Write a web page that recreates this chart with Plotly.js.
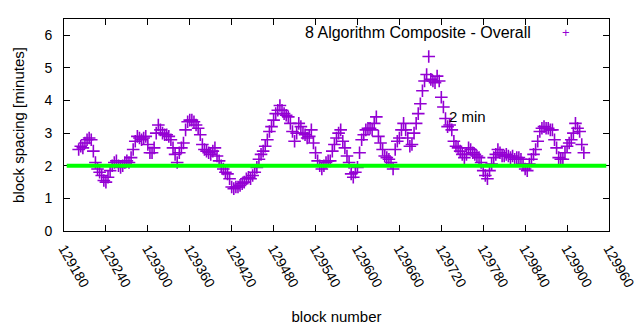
<!DOCTYPE html>
<html>
<head>
<meta charset="utf-8">
<script src="https://cdn.plot.ly/plotly-3.0.1.min.js"></script>
<style>html,body{margin:0;padding:0;background:#fff;}#chart{width:640px;height:330px;}</style>
</head>
<body>
<div id="chart"></div>
<script>
// first block shown and spacing between sampled blocks
const firstBlock = 129201;
const blockStep = 3;
// block spacing in minutes
const spacing = [
  2.5, 2.6, 2.55, 2.7, 2.8,
  2.85, 2.8, 2.45, 2.1, 1.9,
  1.8, 1.7, 1.55, 1.5, 1.65,
  1.85, 2.0, 2.1, 2.15, 2.0,
  1.95, 2.0, 2.1, 2.15, 2.1,
  2.25, 2.5, 2.75, 2.9, 2.85,
  2.8, 2.85, 2.9, 2.65, 2.4,
  2.4, 2.55, 3.0, 3.25, 3.1,
  3.0, 2.95, 2.95, 2.9, 2.8,
  2.55, 2.35, 2.1, 2.4, 2.55,
  2.7, 3.1, 3.35, 3.4, 3.4,
  3.35, 3.25, 3.15, 2.95, 2.65,
  2.5, 2.45, 2.4, 2.35, 2.45,
  2.55, 2.3, 2.15, 2.0, 1.9,
  1.8, 1.75, 1.6, 1.35, 1.3,
  1.35, 1.35, 1.4, 1.45, 1.5,
  1.6, 1.65, 1.6, 1.7, 1.8,
  1.95, 2.2, 2.35, 2.45, 2.6,
  2.8, 3.05, 3.2, 3.4, 3.6,
  3.7, 3.85, 3.7, 3.6, 3.55,
  3.5, 3.3, 3.05, 2.75, 3.0,
  3.3, 3.2, 3.0, 2.95, 2.85,
  2.9, 3.1, 2.7, 2.4, 2.15,
  2.0, 1.9, 2.0, 2.1, 2.15,
  2.15, 2.45, 2.65, 2.85, 3.0,
  3.1, 2.75, 2.55, 2.3, 2.1,
  1.75, 1.65, 1.8, 1.95, 2.4,
  2.8, 2.95, 3.1, 3.15, 3.15,
  3.1, 3.3, 3.5, 2.9, 2.7,
  2.5, 2.3, 2.25, 2.2, 2.1,
  1.9, 2.5, 2.75, 2.85, 3.1,
  3.3, 3.1, 2.85, 2.6, 2.65,
  3.0, 3.3, 3.6, 3.9, 4.3,
  4.6, 4.8, 5.35, 4.65, 4.6,
  4.55, 4.75, 4.6, 4.1, 3.8,
  3.45, 3.2, 3.25, 3.1, 2.75,
  2.6, 2.55, 2.45, 2.35, 2.25,
  2.35, 2.55, 2.5, 2.4, 2.35,
  2.3, 2.25, 2.1, 1.85, 1.7,
  1.6, 1.85, 2.05, 2.25, 2.35,
  2.5, 2.4, 2.3, 2.3, 2.35,
  2.3, 2.25, 2.3, 2.2, 2.25,
  2.25, 2.2, 2.05, 1.9, 1.85,
  2.05, 2.2, 2.35, 2.5, 2.75,
  3.05, 3.15, 3.2, 3.15, 3.15,
  3.1, 3.1, 2.8, 2.55, 2.25,
  2.2, 2.2, 2.4, 2.6, 2.7,
  2.8, 3.0, 3.3, 3.15, 3.05,
  2.65, 2.4
];
const xTicks = [129180,129240,129300,129360,129420,129480,129540,129600,129660,129720,129780,129840,129900,129960];
const xRange = [129180, 129960];
const yRange = [0, 6.5];
const targetMinutes = 2;
const seriesName = "8 Algorithm Composite - Overall";
const targetLabel = "2 min";
const targetLabelPos = [129728, 3.5];

const blocks = spacing.map((v, i) => firstBlock + i * blockStep);

const font = {family: "Liberation Sans, Arial, sans-serif", size: 14, color: "#000"};

const traces = [{
  type: "scatter", mode: "markers", x: blocks, y: spacing, name: seriesName,
  showlegend: false,
  marker: {symbol: "cross-thin-open", size: 9, color: "#9400d3", line: {color: "#9400d3", width: 1.6}},
  cliponaxis: false
}];

const layout = {
  width: 640, height: 330,
  margin: {l: 64, r: 31, t: 19, b: 99},
  paper_bgcolor: "#fff", plot_bgcolor: "#fff",
  font: font,
  showlegend: false,
  xaxis: {
    range: xRange, tickvals: xTicks, ticktext: xTicks.map(String), tickangle: 60,
    ticks: "inside", ticklen: 6, tickcolor: "#000", mirror: "allticks",
    showline: true, linecolor: "#000", linewidth: 1, showgrid: false, zeroline: false,
    tickfont: {family: font.family, size: 14, color: "#000"},
    ticklabelstandoff: 3,
    title: {text: "block number", font: {family: font.family, size: 15, color: "#000"}, standoff: 22},
    automargin: false
  },
  yaxis: {
    range: yRange, dtick: 1, tick0: 0,
    ticks: "inside", ticklen: 6, tickcolor: "#000", mirror: "allticks",
    showline: true, linecolor: "#000", linewidth: 1, showgrid: false, zeroline: false,
    tickfont: {family: font.family, size: 14, color: "#000"},
    ticklabelstandoff: 8,
    title: {text: "block spacing [minutes]", font: {family: font.family, size: 15, color: "#000"}, standoff: 16},
    automargin: false
  },
  shapes: [{
    type: "line", xref: "paper", yref: "y", x0: 0.005, x1: 0.995, y0: targetMinutes, y1: targetMinutes,
    line: {color: "#00ff00", width: 4}, layer: "above"
  }],
  annotations: [
    {xref: "paper", yref: "paper", x: 0.8606, y: 0.935, xanchor: "right", yanchor: "middle",
     text: seriesName, showarrow: false, font: {family: font.family, size: 16, color: "#000"}},
    {xref: "paper", yref: "paper", x: 0.921, y: 0.935, xanchor: "center", yanchor: "middle",
     text: "+", showarrow: false, font: {family: font.family, size: 13, color: "#9400d3"}},
    {xref: "x", yref: "y", x: targetLabelPos[0], y: targetLabelPos[1], xanchor: "left", yanchor: "middle",
     text: targetLabel, showarrow: false, font: {family: font.family, size: 15, color: "#000"}}
  ]
};

Plotly.newPlot("chart", traces, layout, {staticPlot: true, displayModeBar: false});
</script>
</body>
</html>
